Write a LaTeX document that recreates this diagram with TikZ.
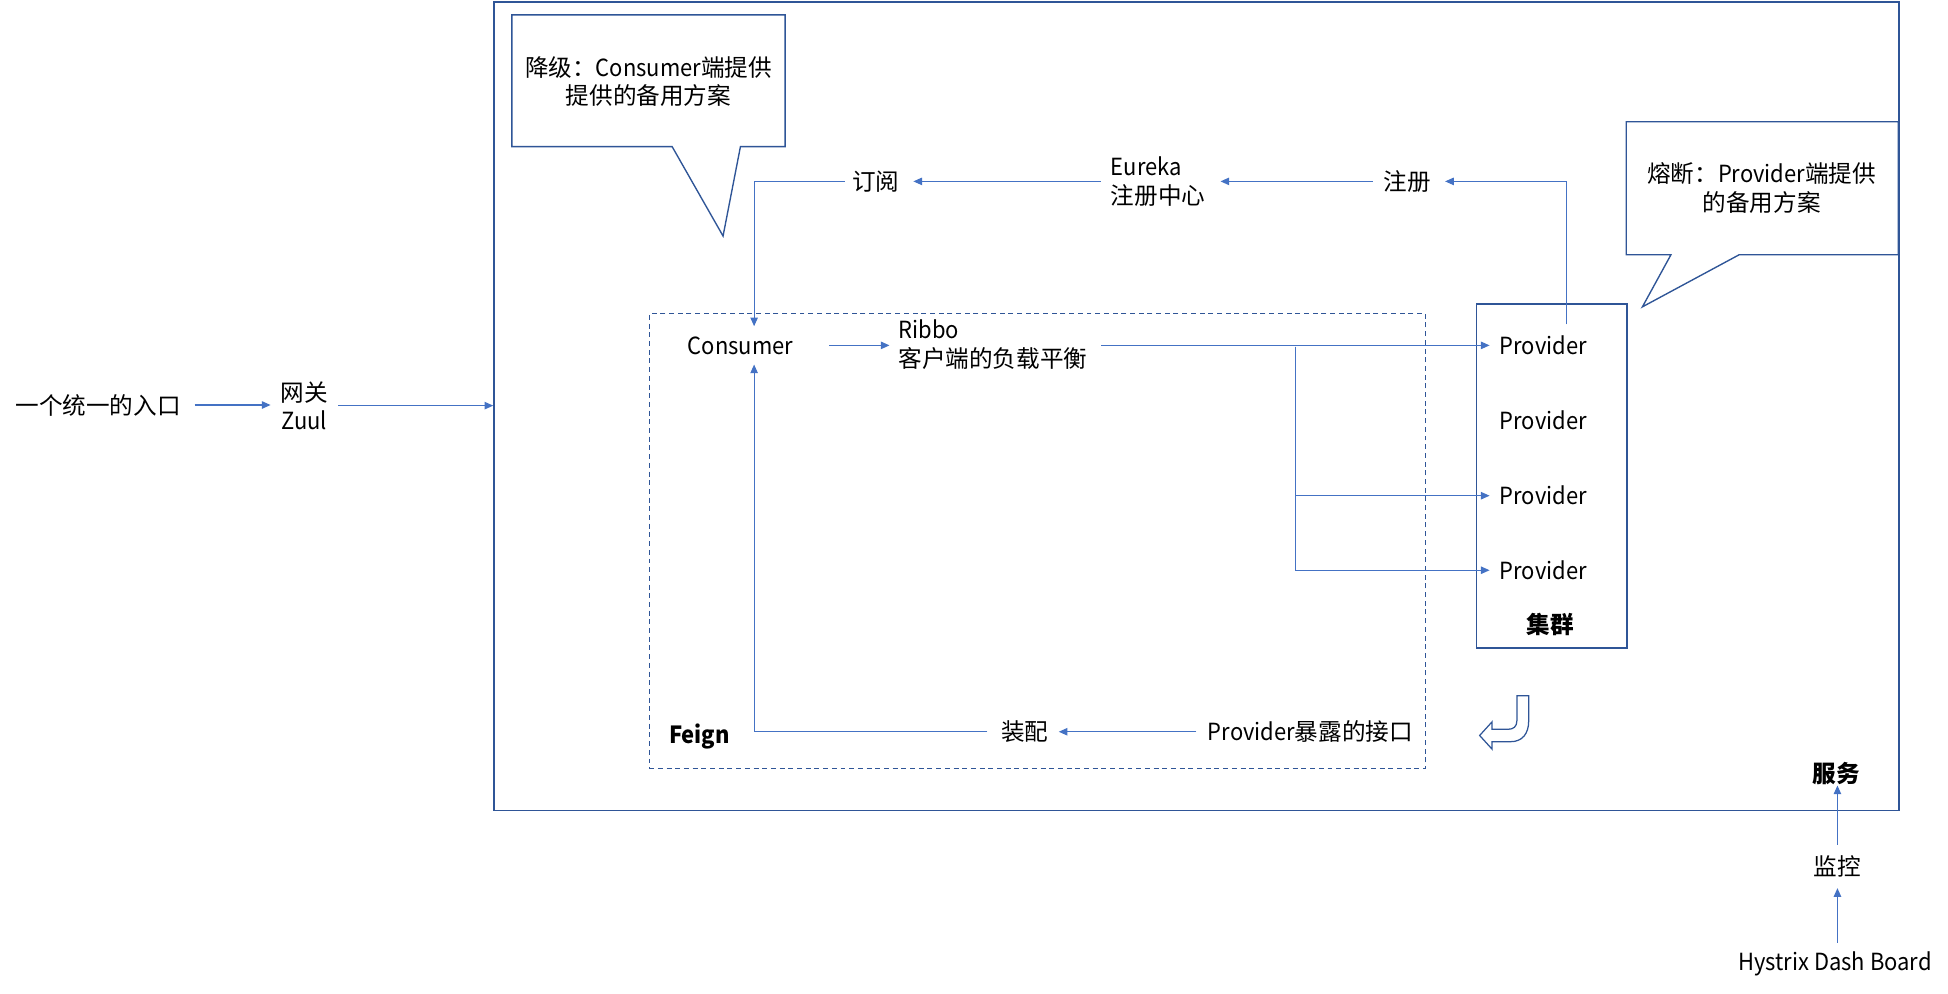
\documentclass[tikz,border=0pt]{standalone}
\usepackage{fontspec}
\setmainfont{Noto Sans CJK SC}
\newfontfamily\lat{Noto Sans CJK SC}[FakeStretch=0.93]
\usetikzlibrary{arrows.meta,calc}
\definecolor{boxblue}{HTML}{2F5597}
\definecolor{lineblue}{HTML}{4472C4}
\begin{document}
\begin{tikzpicture}[x=1pt,y=-1pt,
  txt/.style={inner sep=0pt, font=\fontsize{19}{23}\selectfont},
  boldtxt/.style={inner sep=0pt, font=\fontsize{19}{23}\selectfont\bfseries},
  frame/.style={draw=boxblue, line width=1.1pt},
  arr/.style={draw=lineblue, line width=0.9pt, -{Triangle[length=7pt,width=6pt]}},
  ln/.style={draw=lineblue, line width=0.9pt}]
\useasboundingbox (0,0) rectangle (1568,800);

% frames
\node[frame, minimum width=1131pt, minimum height=651pt, inner sep=0pt, anchor=north west] (service) at (397,1) {};
\node[frame, dash pattern=on 4pt off 3pt, minimum width=625pt, minimum height=366pt, inner sep=0pt, anchor=north west] (feignbox) at (522,252) {};
\node[frame, minimum width=121pt, minimum height=277pt, inner sep=0pt, anchor=north west] (cluster) at (1188,244) {};

% callouts
\draw[frame, fill=white] (412,12) -- (632,12) -- (632,118) -- (596,118) -- (582,190) -- (541,118) -- (412,118) -- cycle;
\draw[frame, fill=white] (1309,98) -- (1528,98) -- (1528,205) -- (1400,205) -- (1322,247) -- (1345,205) -- (1309,205) -- cycle;

% U-turn arrow
\draw[frame, line width=1pt, fill=white] (1221,560) -- (1230.5,560) -- (1230.5,580)
  .. controls (1230.5,591) and (1225,597) .. (1216,597) -- (1201,597) -- (1201,603) -- (1191,592)
  -- (1201,581) -- (1201,587) -- (1214,587) .. controls (1218,587) and (1221,585) .. (1221,580) -- cycle;

% texts
\node[txt, align=center] (jiangji) at (522,65.5) {降级：{\lat Consumer}端提供\\提供的备用方案};
\node[txt, align=center] (rongduan) at (1418,151.5) {熔断：{\lat Provider}端提供\\的备用方案};
\node[txt] (entry) at (79,326) {一个统一的入口};
\node[txt, align=center] (zuul) at (245,326.5) {网关\\{\lat Zuul}};
\node[txt] (dingyue) at (705,146) {订阅};
\node[txt, align=left, anchor=west] (eureka) at (894,146) {{\lat Eureka}\\注册中心};
\node[txt] (zhuce) at (1133,146) {注册};
\node[txt] (consumer) at (596,278) {\lat Consumer};
\node[txt, align=left, anchor=west] (ribbo) at (723,277.5) {{\lat Ribbo}\\客户端的负载平衡};
\node[txt, anchor=west] (p1) at (1207,278) {\lat Provider};
\node[txt, anchor=west] (p2) at (1207,338) {\lat Provider};
\node[txt, anchor=west] (p3) at (1207,399) {\lat Provider};
\node[txt, anchor=west] (p4) at (1207,459) {\lat Provider};
\node[boldtxt] (jiqun) at (1248,503) {集群};
\node[boldtxt] (feign) at (563,593) {\lat Feign};
\node[txt] (zhuangpei) at (825,589) {装配};
\node[txt, anchor=west] (iface) at (972,589) {{\lat Provider}暴露的接口};
\node[boldtxt] (fuwu) at (1478,623) {服务};
\node[txt] (jiankong) at (1479,697) {监控};
\node[txt] (hystrix) at (1477,776) {\lat Hystrix Dash Board};

\coordinate (branch) at (1043,279);

% connectors
\draw[arr, shorten <=11pt, shorten >=8pt] (entry.east) -- (entry.east -| zuul.west);
\draw[arr, shorten <=8pt] (zuul.east) -- (zuul.east -| service.west);
\draw[arr, shorten <=8pt, shorten >=11pt] (eureka.west) -- (dingyue.east);
\draw[arr, shorten <=6pt, shorten >=8pt] (dingyue.west) -| ([xshift=11pt]consumer.north);
\draw[arr, shorten <=9pt, shorten >=12pt] (zhuce.west) -- (eureka.east |- zhuce.west);
\draw[arr, shorten <=9pt, shorten >=11pt] ([xshift=18.5pt]p1.north) |- (zhuce.east);
\draw[arr, shorten <=29pt, shorten >=7pt] (consumer.east) -- (ribbo.west |- consumer.east);
\draw[arr, shorten <=11pt, shorten >=8pt] (ribbo.east |- p1.west) -- (p1.west);
\draw[arr, shorten >=8pt] (branch) |- (p3.west);
\draw[arr, shorten >=8pt] (branch) |- (p4.west);
\draw[arr, shorten <=9pt, shorten >=8pt] (iface.west) -- (zhuangpei.east |- iface.west);
\draw[arr, shorten <=11pt, shorten >=8pt] (zhuangpei.west) -| ([xshift=11pt]consumer.south);
\draw[arr, shorten <=8pt] (jiankong.north) -- (fuwu.south -| jiankong.north);
\draw[arr, shorten <=7pt, shorten >=9pt] (hystrix.north -| jiankong.south) -- (jiankong.south);
\end{tikzpicture}
\end{document}
